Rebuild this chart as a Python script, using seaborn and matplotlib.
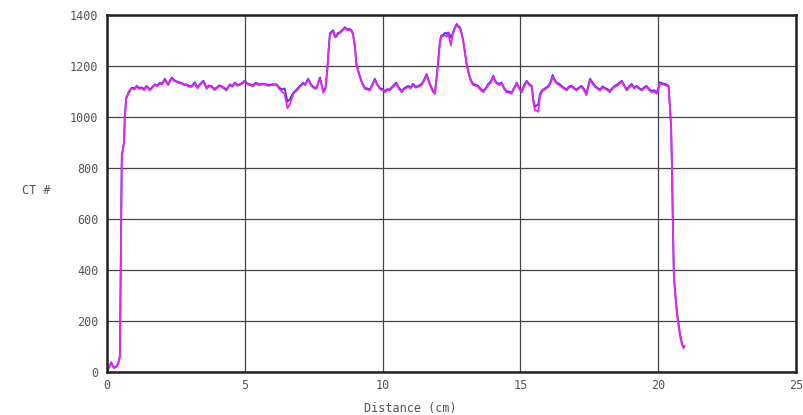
import pandas as pd
import matplotlib.pyplot as plt
import seaborn as sns

distance = [0.0, 0.05, 0.15, 0.25, 0.35, 0.42, 0.47, 0.5, 0.54, 0.58, 0.62, 0.65, 0.7, 0.8, 0.9,
            1.0, 1.08, 1.17, 1.26, 1.35, 1.44, 1.56, 1.65, 1.74, 1.83, 1.92, 2.0, 2.1, 2.22, 2.35,
            2.45, 2.53, 2.62, 2.71, 2.8, 2.89, 2.98, 3.07, 3.19, 3.28, 3.37, 3.5, 3.62, 3.7, 3.8,
            3.9, 3.98, 4.07, 4.16, 4.25, 4.34, 4.46, 4.55, 4.64, 4.73, 4.82, 4.91, 5.0, 5.1, 5.19,
            5.3, 5.4, 5.55, 5.7, 5.85, 6.0, 6.16, 6.25, 6.35, 6.45, 6.55, 6.64, 6.76, 6.9, 7.0,
            7.12, 7.2, 7.3, 7.43, 7.52, 7.6, 7.73, 7.85, 7.93, 8.0, 8.05, 8.09, 8.15, 8.21, 8.27,
            8.33, 8.39, 8.45, 8.55, 8.63, 8.72, 8.81, 8.88, 8.93, 9.0, 9.05, 9.11, 9.17, 9.26, 9.36,
            9.45, 9.54, 9.63, 9.72, 9.81, 9.9, 10.0, 10.08, 10.17, 10.26, 10.38, 10.5, 10.6, 10.69,
            10.8, 10.93, 11.02, 11.1, 11.2, 11.3, 11.42, 11.5, 11.6, 11.72, 11.82, 11.9, 11.96,
            12.02, 12.08, 12.12, 12.2, 12.26, 12.32, 12.38, 12.44, 12.48, 12.54, 12.6, 12.69,
            12.75, 12.81, 12.87, 12.93, 12.99, 13.05, 13.11, 13.17, 13.23, 13.29, 13.38, 13.47,
            13.56, 13.66, 13.75, 13.84, 13.93, 14.02, 14.08, 14.14, 14.23, 14.32, 14.41, 14.5,
            14.59, 14.68, 14.77, 14.87, 14.96, 15.05, 15.14, 15.23, 15.32, 15.41, 15.47, 15.53,
            15.59, 15.65, 15.71, 15.77, 15.83, 15.92, 16.01, 16.09, 16.17, 16.25, 16.32, 16.41,
            16.5, 16.59, 16.68, 16.77, 16.86, 16.95, 17.04, 17.13, 17.22, 17.31, 17.4, 17.47,
            17.53, 17.62, 17.71, 17.8, 17.89, 17.98, 18.07, 18.16, 18.25, 18.34, 18.43, 18.55,
            18.68, 18.77, 18.86, 18.95, 19.04, 19.13, 19.22, 19.31, 19.4, 19.49, 19.58, 19.67,
            19.77, 19.86, 19.95, 20.02, 20.07, 20.15, 20.25, 20.32, 20.38, 20.43, 20.47, 20.5,
            20.53, 20.57, 20.62, 20.68, 20.74, 20.8, 20.86, 20.91, 20.96]

ct_magenta = [5, 10, 35, 15, 20, 35, 60, 400, 850, 870, 900, 1000, 1070, 1095, 1112,
              1108, 1118, 1110, 1112, 1105, 1118, 1104, 1115, 1125, 1120, 1131, 1128, 1144, 1125, 1151,
              1140, 1138, 1132, 1131, 1125, 1125, 1118, 1118, 1131, 1112, 1125, 1138, 1110, 1120, 1118,
              1105, 1112, 1120, 1118, 1110, 1104, 1125, 1118, 1131, 1122, 1125, 1130, 1138, 1128, 1125,
              1120, 1130, 1125, 1128, 1122, 1125, 1125, 1110, 1100, 1090, 1034, 1050, 1090, 1105, 1118,
              1130, 1125, 1145, 1120, 1112, 1110, 1150, 1095, 1110, 1190, 1270, 1322, 1330, 1335, 1312,
              1315, 1325, 1328, 1338, 1348, 1340, 1341, 1335, 1322, 1270, 1204, 1180, 1158, 1130, 1110,
              1108, 1104, 1125, 1145, 1125, 1110, 1105, 1097, 1105, 1104, 1118, 1130, 1110, 1097,
              1110, 1118, 1112, 1125, 1115, 1118, 1125, 1140, 1163, 1125, 1100, 1090, 1150,
              1216, 1290, 1314, 1318, 1320, 1315, 1327, 1300, 1281, 1320, 1340, 1360,
              1352, 1347, 1325, 1294, 1250, 1203, 1175, 1151, 1135, 1125, 1122, 1118,
              1105, 1097, 1110, 1125, 1135, 1157, 1140, 1131, 1125, 1131, 1110, 1097,
              1095, 1091, 1110, 1131, 1110, 1097, 1120, 1138, 1125, 1118, 1060, 1026,
              1025, 1020, 1080, 1097, 1104, 1110, 1118, 1130, 1157, 1140, 1131, 1125,
              1118, 1110, 1104, 1115, 1118, 1110, 1104, 1112, 1118, 1105, 1085, 1120,
              1144, 1130, 1118, 1110, 1104, 1115, 1110, 1105, 1097, 1110, 1118, 1125,
              1138, 1120, 1104, 1115, 1125, 1112, 1118, 1110, 1104, 1112, 1118, 1105,
              1097, 1100, 1091, 1115, 1131, 1128, 1125, 1122, 1118, 1027, 960, 800,
              600, 373, 300, 231, 180, 137, 110, 94, 100]

ct_blue = [5, 12, 38, 18, 22, 38, 65, 410, 855, 872, 905, 1005, 1075, 1100, 1115,
           1112, 1122, 1114, 1116, 1110, 1122, 1108, 1118, 1128, 1124, 1135, 1130, 1150, 1128, 1155,
           1144, 1140, 1136, 1134, 1128, 1128, 1122, 1121, 1136, 1116, 1128, 1142, 1114, 1124, 1121,
           1110, 1115, 1124, 1121, 1114, 1108, 1128, 1121, 1135, 1126, 1128, 1134, 1142, 1131, 1128,
           1124, 1134, 1128, 1131, 1126, 1128, 1128, 1116, 1108, 1112, 1060, 1070, 1095, 1110, 1122,
           1134, 1128, 1150, 1124, 1116, 1114, 1155, 1100, 1114, 1195, 1275, 1328, 1335, 1340, 1318,
           1320, 1330, 1332, 1342, 1352, 1344, 1345, 1339, 1326, 1275, 1210, 1185, 1162, 1134, 1114,
           1112, 1108, 1128, 1150, 1128, 1114, 1109, 1102, 1109, 1108, 1122, 1135, 1114, 1102,
           1114, 1122, 1116, 1130, 1119, 1122, 1130, 1145, 1168, 1130, 1105, 1095, 1155,
           1220, 1295, 1318, 1322, 1330, 1326, 1332, 1322, 1312, 1326, 1345, 1365,
           1356, 1352, 1330, 1298, 1255, 1208, 1180, 1156, 1140, 1130, 1126, 1122,
           1110, 1102, 1114, 1130, 1140, 1162, 1145, 1135, 1130, 1135, 1114, 1102,
           1100, 1095, 1114, 1135, 1114, 1102, 1125, 1142, 1130, 1122, 1070, 1040,
           1045, 1050, 1090, 1102, 1108, 1114, 1122, 1135, 1165, 1145, 1135, 1130,
           1122, 1114, 1108, 1120, 1122, 1114, 1108, 1116, 1122, 1110, 1092, 1125,
           1150, 1135, 1122, 1114, 1108, 1120, 1114, 1110, 1102, 1114, 1122, 1130,
           1142, 1125, 1108, 1120, 1130, 1116, 1122, 1114, 1108, 1116, 1122, 1110,
           1102, 1105, 1096, 1120, 1136, 1132, 1130, 1126, 1122, 1035, 965, 810,
           610, 380, 310, 240, 190, 145, 115, 98, 102]

x_ticks = [0, 5, 10, 15, 20, 25]
y_ticks = [0, 200, 400, 600, 800, 1000, 1200, 1400]

df = pd.DataFrame({
    'Distance': distance * 2,
    'CT': ct_blue + ct_magenta,
    'Scan': ['blue'] * len(distance) + ['magenta'] * len(distance),
})

sns.set_style('white')
plt.rcParams['font.family'] = ['DejaVu Sans Mono']

fig = plt.figure(figsize=(8.04, 4.15), dpi=100)
ax = fig.add_axes([0.133, 0.1036, 0.857, 0.8603])

sns.lineplot(data=df, x='Distance', y='CT', hue='Scan', estimator=None, sort=False,
             palette={'blue': '#3b3bd6', 'magenta': '#ee22ee'}, linewidth=1.3,
             legend=False, ax=ax)

ax.set_xlim(0, 25)
ax.set_ylim(0, 1400)
ax.set_xticks(x_ticks)
ax.set_yticks(y_ticks)
ax.grid(True, color='#444444', linewidth=0.9)
ax.set_axisbelow(True)
for s in ax.spines.values():
    s.set_color('#222222')
    s.set_linewidth(1.8)
ax.tick_params(length=0, labelsize=8.5, labelcolor='#555555')
ax.tick_params(axis='x', pad=5)
ax.tick_params(axis='y', pad=6)

ax.set_xlabel('Distance (cm)', fontsize=8.5, color='#555555')
ax.xaxis.set_label_coords(0.44, -0.085)
ax.set_ylabel('CT #', fontsize=8.5, color='#555555', rotation=0)
ax.yaxis.set_label_coords(-0.103, 0.49)

plt.savefig('out.png', dpi=100)
